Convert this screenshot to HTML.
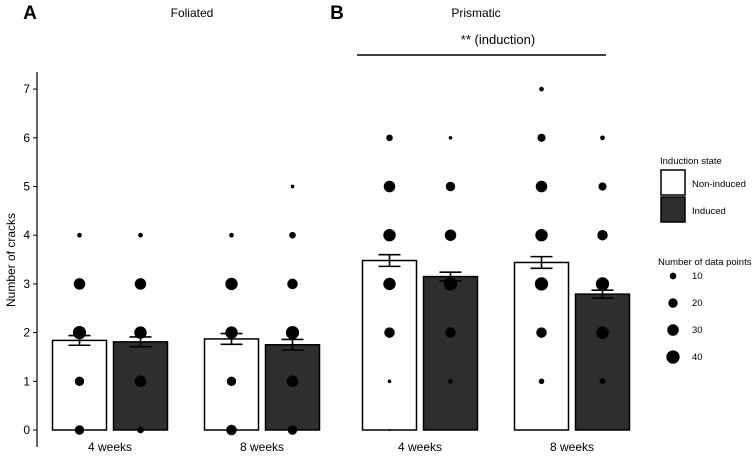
<!DOCTYPE html>
<html><head><meta charset="utf-8"><style>
body{margin:0;background:#fff;}
svg{font-family:"Liberation Sans",Arial,sans-serif;}
</style></head><body>
<svg id="c" width="756" height="466" viewBox="0 0 756 466" xmlns="http://www.w3.org/2000/svg">
<text x="30" y="19" font-size="19" font-weight="bold" text-anchor="middle">A</text>
<text x="337" y="19" font-size="19" font-weight="bold" text-anchor="middle">B</text>
<text x="192" y="17" font-size="12" text-anchor="middle">Foliated</text>
<text x="476" y="17" font-size="12" text-anchor="middle">Prismatic</text>
<text x="498" y="44" font-size="13" text-anchor="middle">** (induction)</text>
<line x1="357" y1="55" x2="606" y2="55" stroke="#000" stroke-width="1.5"/>
<line x1="37" y1="72" x2="37" y2="447" stroke="#000" stroke-width="1.2"/>
<text transform="translate(15,260) rotate(-90)" font-size="12" text-anchor="middle">Number of cracks</text>
<g id="yt"></g><g id="bars"></g><g id="dots"></g><g id="errs"></g><g id="xl"></g>
<text x="660" y="164" font-size="9.5">Induction state</text>
<rect x="661" y="170" width="24" height="25" fill="#fff" stroke="#000" stroke-width="1.5"/>
<text x="692" y="187" font-size="9.5">Non-induced</text>
<rect x="661" y="197" width="24" height="25" fill="#2e2e2e" stroke="#000" stroke-width="1.5"/>
<text x="692" y="214" font-size="9.5">Induced</text>
<text x="658" y="265" font-size="9.5">Number of data points</text>
<g id="leg"></g>
</svg>
<script>
const groups=["Foliated 4 weeks","Foliated 8 weeks","Prismatic 4 weeks","Prismatic 8 weeks"];
const xLabels=["4 weeks","8 weeks","4 weeks","8 weeks"];
const nonInducedMean=[1.84,1.87,3.48,3.44];
const inducedMean=[1.81,1.75,3.15,2.79];
const nonInducedSE=[0.10,0.11,0.12,0.12];
const inducedSE=[0.10,0.11,0.09,0.08];
const yTicks=[0,1,2,3,4,5,6,7];
const nonInducedCounts=[[20,20,40,30,5,0,0,0],[25,20,35,35,5,0,0,0],[1,3,25,35,35,30,10,0],[0,7,25,40,35,30,15,5]];
const inducedCounts=[[10,30,35,30,5,0,0,0],[20,30,40,25,10,3,0,0],[0,5,25,40,30,20,3,0],[0,8,35,40,25,15,5,0]];
const legendSizes=[10,20,30,40];
const NS="http://www.w3.org/2000/svg";
const groupCenters=[110,262,420,572];
const y=v=>430-v*48.7;
const r=n=>1.05*Math.sqrt(n);
function mk(t,a,p){const e=document.createElementNS(NS,t);for(const k in a)e.setAttribute(k,a[k]);document.getElementById(p).appendChild(e);return e;}
yTicks.forEach(t=>{
 const l=mk("line",{x1:33,x2:37,y1:y(t),y2:y(t),stroke:"#000"},"yt");
 
 
 const tx=mk("text",{x:30,y:y(t)+4,"font-size":12,"text-anchor":"end"},"yt");tx.textContent=t;
 
 
});
groups.forEach((g,i)=>{
 const series=[[nonInducedMean,nonInducedSE,nonInducedCounts,"#fff",-30.5,"non-induced"],[inducedMean,inducedSE,inducedCounts,"#2e2e2e",30.5,"induced"]];
 series.forEach(([m,se,cnt,fill,off,nm])=>{
  const cx=groupCenters[i]+off;
  const b=mk("rect",{x:cx-27,y:y(m[i]),width:54,height:y(0)-y(m[i]),fill:fill,stroke:"#000","stroke-width":1.5},"bars");
  
  
  cnt[i].forEach((n,v)=>{if(n>0){const d=mk("circle",{cx:cx,cy:y(v),r:r(n),fill:"#000"},"dots");
   
   }});
  const top=y(m[i]+se[i]),bot=y(m[i]-se[i]);
  const e=mk("path",{d:`M${cx-11},${top}H${cx+11}M${cx},${top}V${bot}M${cx-11},${bot}H${cx+11}`,stroke:"#000","stroke-width":1.6,fill:"none"},"errs");
  
  
 });
 const xl=mk("text",{x:groupCenters[i],y:451,"font-size":12,"text-anchor":"middle"},"xl");xl.textContent=xLabels[i];
 
 
});
legendSizes.forEach((s,k)=>{
 const cy=276+k*27;
 const c=mk("circle",{cx:673,cy:cy,r:r(s),fill:"#000"},"leg");
 
 
 const t=mk("text",{x:692,y:cy+3,"font-size":9.5},"leg");t.textContent=s;
 
 
});
</script>
</body></html>
